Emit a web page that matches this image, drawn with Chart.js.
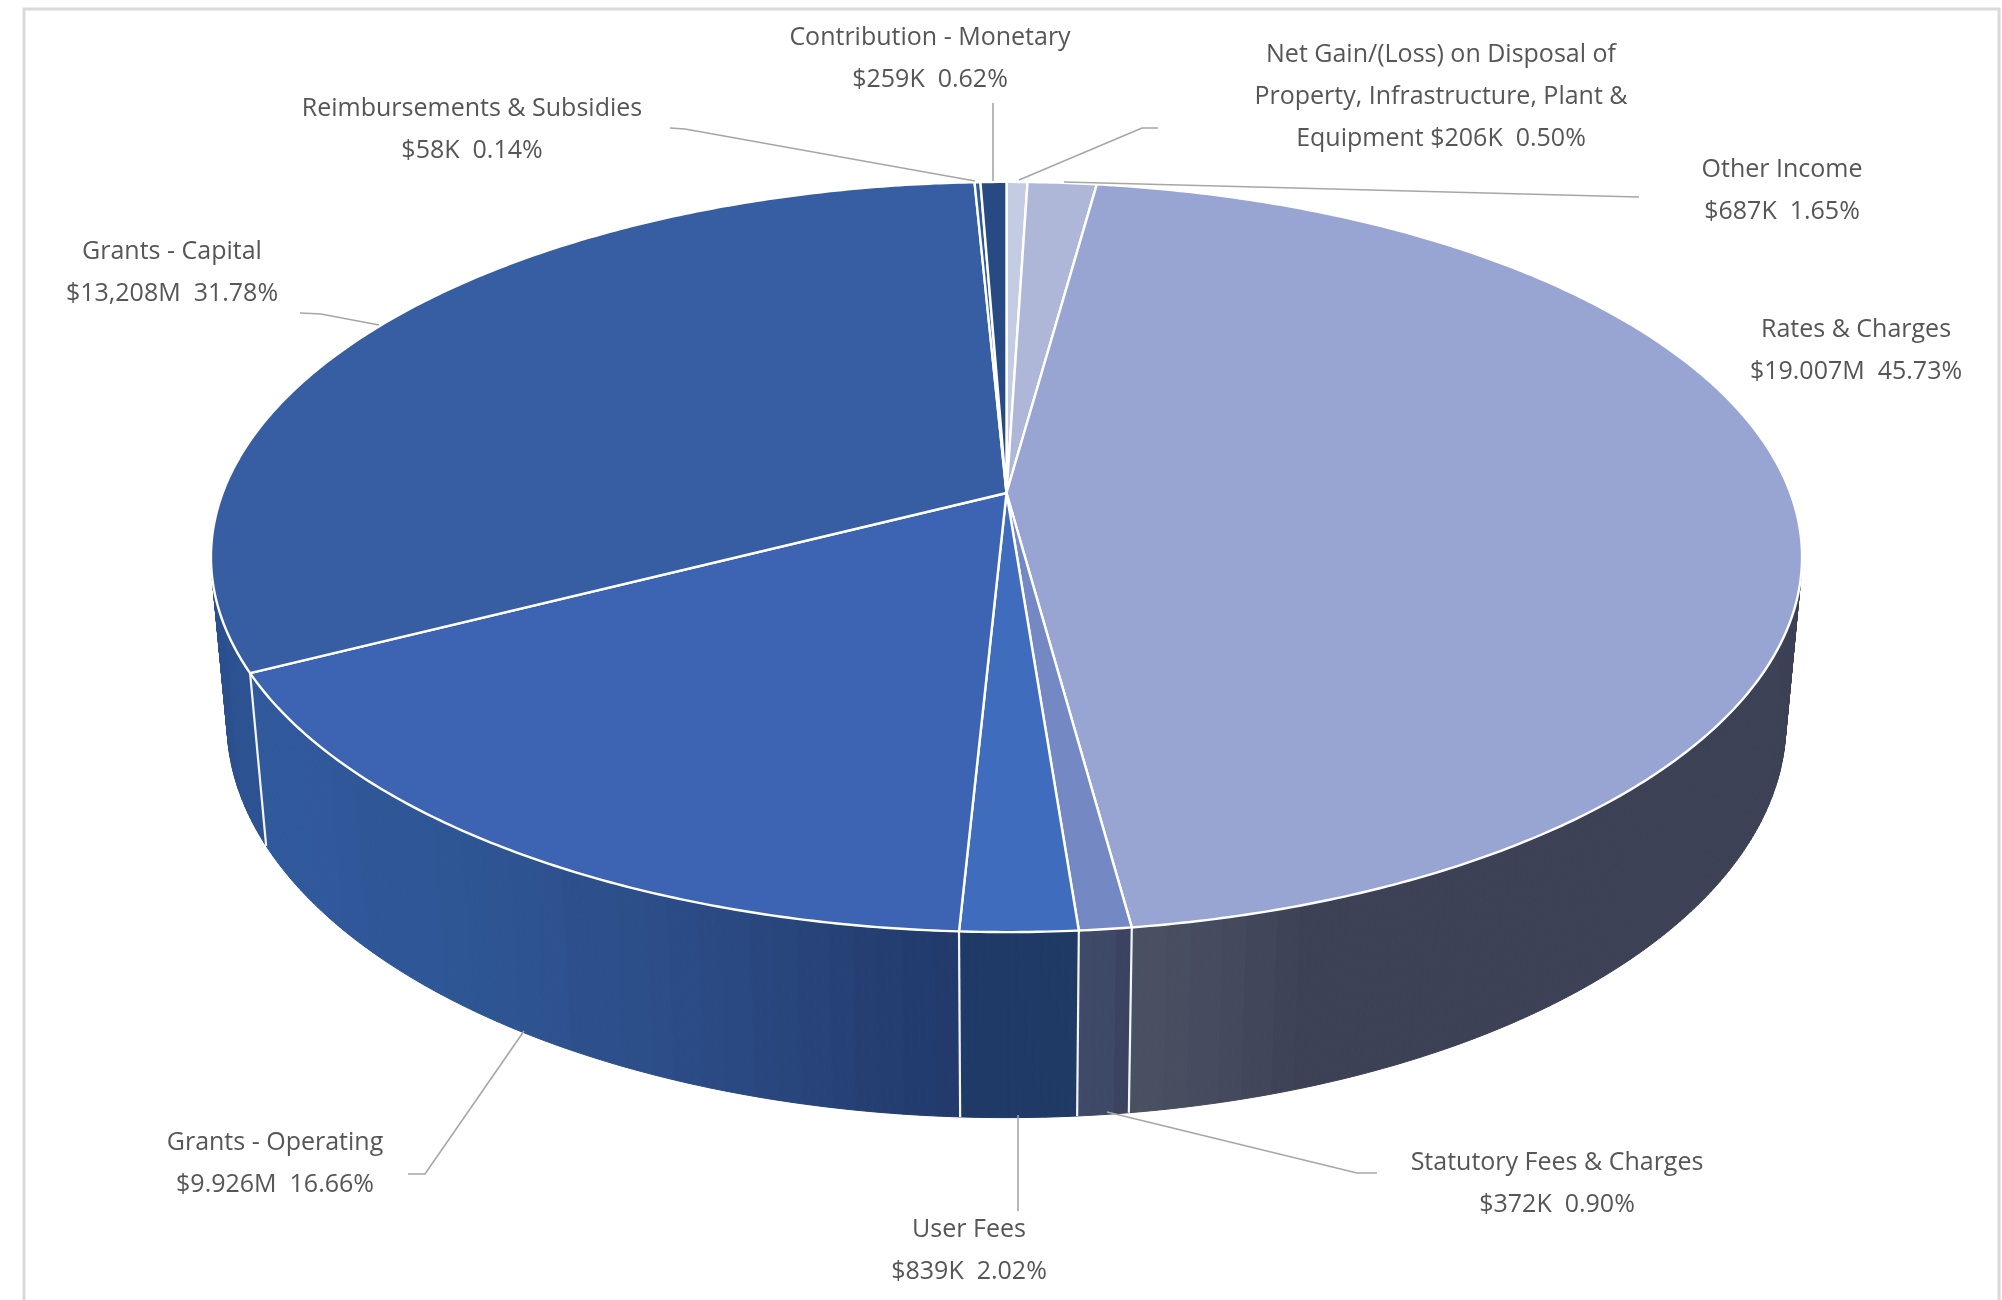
<!DOCTYPE html>
<html>
<head>
<meta charset="utf-8">
<title>Income by source</title>
<script src="https://cdn.jsdelivr.net/npm/chart.js@4"></script>
<style>
  html, body { margin: 0; padding: 0; background: #fff; }
  canvas { display: block; }
</style>
</head>
<body>
<canvas id="incomeChart" width="2002" height="1300"></canvas>
<script>
// clockwise from 12 o'clock, same order as the reference
const categories = ['Net Gain/(Loss) on Disposal of Property, Infrastructure, Plant & Equipment', 'Other Income', 'Rates & Charges',
  'Statutory Fees & Charges', 'User Fees', 'Grants - Operating', 'Grants - Capital', 'Reimbursements & Subsidies', 'Contribution - Monetary'];
const percents = [0.50, 1.65, 45.73, 0.90, 2.02, 16.66, 31.78, 0.14, 0.62];
const amounts = ['$206K', '$687K', '$19.007M', '$372K', '$839K', '$9.926M', '$13,208M', '$58K', '$259K'];
const sliceColors = ['#c3cce3', '#aeb7d8', '#98a5d2', '#7488c4', '#3f6cbd', '#3c64b2', '#375ea2', '#2f5a9a', '#274a85'];

// side wall colour against canvas x
const wallShades = [
  [[0, '#c3cce3']],
  [[0, '#aeb7d8']],
  [[1133, '#485162'], [1210, '#454a5e'], [1294, '#3d4156']],
  [[1090, '#3e4a68'], [1133, '#3a3f5e']],
  [[960, '#203a68'], [1060, '#1f3a64']],
  [[266, '#30599c'], [500, '#2e5492'], [700, '#2b4a84'], [860, '#253f73'], [960, '#21396a']],
  [[211, '#2c4f8e'], [266, '#2f5596']],
  [[0, '#2f5a9a']],
  [[0, '#274a85']]
];

// label centre x, first baseline centre y
const labelPos = [[1441, 55], [1782, 170], [1856, 330], [1557, 1163], [969, 1230], [275, 1143], [172, 252], [472, 109], [930, 38]];
const leaderLines = [
  [[1158, 128], [1142, 128], [1019, 180]],
  [[1064, 182], [1639, 197]],
  [],
  [[1107, 1112], [1357, 1173], [1377, 1173]],
  [[1018, 1115], [1018, 1211]],
  [[524, 1031], [425, 1174], [408, 1174]],
  [[300, 313], [321, 314], [379, 325]],
  [[670, 128], [685, 129], [975, 181]],
  [[993, 103], [993, 181]]
];

// perspective of the disc, in units of the pie radius
const view = { a: 1.59, b: 0.7387, k: -0.1706, drop: 0.3375, m: 0.02 };

function topPoint(el, t) {
  const u = Math.cos(t), v = Math.sin(t), w = 1 + view.k * v, r = el.outerRadius;
  return [el.x + view.a * r * u / w, el.y + view.b * r * v / w];
}

function bottomPoint(el, t) {
  const u = Math.cos(t), v = Math.sin(t), w = 1 + view.k * v + view.m, r = el.outerRadius;
  return [el.x + view.a * r * u / w, el.y + (view.b * v + view.drop) * r / w];
}

function hexToRgb(hex) {
  return [1, 3, 5].map(i => parseInt(hex.substr(i, 2), 16));
}

function wallColor(index, x) {
  const stops = wallShades[index];
  const bx = Math.floor(x / 26) * 26;
  if (bx <= stops[0][0]) return stops[0][1];
  for (let i = 1; i < stops.length; i++) {
    if (bx <= stops[i][0]) {
      const f = (bx - stops[i - 1][0]) / (stops[i][0] - stops[i - 1][0]);
      const c0 = hexToRgb(stops[i - 1][1]), c1 = hexToRgb(stops[i][1]);
      return `rgb(${c0.map((c, n) => Math.round(c + (c1[n] - c) * f)).join(',')})`;
    }
  }
  return stops[stops.length - 1][1];
}

const pie3d = {
  id: 'pie3d',
  beforeDraw(chart) {
    const ctx = chart.ctx;
    ctx.save();
    ctx.fillStyle = '#fff';
    ctx.fillRect(0, 0, chart.width, chart.height);
    ctx.strokeStyle = '#d9d9d9';
    ctx.lineWidth = 3;
    ctx.beginPath();
    ctx.moveTo(24, 1300);
    ctx.lineTo(24, 9);
    ctx.lineTo(1999, 9);
    ctx.lineTo(1999, 1300);
    ctx.stroke();
    ctx.restore();
  },
  // the arcs keep their angles from the library, only the projection is ours
  beforeDatasetDraw(chart, args) {
    const ctx = chart.ctx;
    const arcs = args.meta.data;
    const step = Math.PI / 360;

    const quads = [];
    arcs.forEach((el, i) => {
      for (let t = el.startAngle; t < el.endAngle; t += step) {
        quads.push({ el, i, t0: t, t1: Math.min(t + step, el.endAngle) });
      }
    });
    quads.sort((p, q) => Math.sin(p.t0) - Math.sin(q.t0));

    ctx.save();
    ctx.lineWidth = 1;
    quads.forEach(q => {
      if (Math.sin(q.t0) < -0.3) return;
      const p0 = topPoint(q.el, q.t0), p1 = topPoint(q.el, q.t1);
      const p2 = bottomPoint(q.el, q.t1), p3 = bottomPoint(q.el, q.t0);
      const col = wallColor(q.i, (p0[0] + p3[0]) / 2);
      ctx.fillStyle = col;
      ctx.strokeStyle = col;
      ctx.beginPath();
      ctx.moveTo(p0[0], p0[1]);
      ctx.lineTo(p1[0], p1[1]);
      ctx.lineTo(p2[0], p2[1]);
      ctx.lineTo(p3[0], p3[1]);
      ctx.closePath();
      ctx.fill();
      ctx.stroke();
    });

    // white seams on the front of the wall
    ctx.strokeStyle = '#f4f5f8';
    ctx.lineWidth = 2.2;
    arcs.forEach(el => {
      if (Math.sin(el.startAngle) <= 0) return;
      const p = topPoint(el, el.startAngle), q = bottomPoint(el, el.startAngle);
      ctx.beginPath();
      ctx.moveTo(p[0], p[1]);
      ctx.lineTo(q[0], q[1]);
      ctx.stroke();
    });

    // top face
    ctx.lineJoin = 'round';
    arcs.forEach((el, i) => {
      ctx.beginPath();
      ctx.moveTo(el.x, el.y);
      for (let t = el.startAngle; t < el.endAngle; t += step) {
        const p = topPoint(el, t);
        ctx.lineTo(p[0], p[1]);
      }
      const end = topPoint(el, el.endAngle);
      ctx.lineTo(end[0], end[1]);
      ctx.closePath();
      ctx.fillStyle = sliceColors[i];
      ctx.fill();
      ctx.strokeStyle = '#fff';
      ctx.lineWidth = 2.4;
      ctx.stroke();
    });
    ctx.restore();
    return false;
  },
  afterDatasetsDraw(chart) {
    const ctx = chart.ctx;
    ctx.save();
    ctx.strokeStyle = '#a6a6a6';
    ctx.lineWidth = 1.6;
    leaderLines.forEach(pts => {
      if (!pts.length) return;
      ctx.beginPath();
      pts.forEach((p, n) => n ? ctx.lineTo(p[0], p[1]) : ctx.moveTo(p[0], p[1]));
      ctx.stroke();
    });

    ctx.font = '25px "Open Sans"';
    ctx.fillStyle = '#565656';
    ctx.textAlign = 'center';
    ctx.textBaseline = 'middle';
    categories.forEach((name, i) => {
      const line2 = `${amounts[i]}  ${percents[i].toFixed(2)}%`;
      // the long name wraps over three lines in the reference
      const lines = i === 0
        ? ['Net Gain/(Loss) on Disposal of', 'Property, Infrastructure, Plant &', `Equipment ${line2}`]
        : [name, line2];
      lines.forEach((text, n) => ctx.fillText(text, labelPos[i][0], labelPos[i][1] + n * 42));
    });
    ctx.restore();
  }
};

new Chart(document.getElementById('incomeChart'), {
  type: 'pie',
  data: {
    labels: categories,
    datasets: [{ data: percents, backgroundColor: sliceColors, borderWidth: 0 }]
  },
  options: {
    responsive: false,
    animation: false,
    events: [],
    layout: { padding: { left: 11, right: 0, top: 0, bottom: 314 } },
    plugins: { legend: { display: false }, tooltip: { enabled: false } }
  },
  plugins: [pie3d]
});
</script>
</body>
</html>
